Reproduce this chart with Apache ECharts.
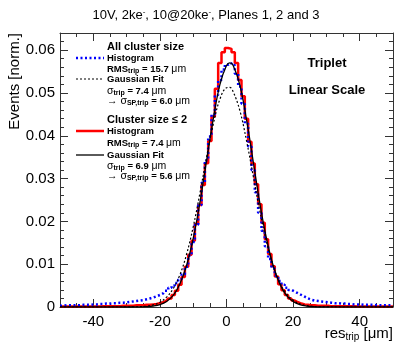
<!DOCTYPE html>
<html><head><meta charset="utf-8">
<script src="https://cdn.jsdelivr.net/npm/echarts@6/dist/echarts.min.js"></script>
<style>html,body{margin:0;padding:0;background:#fff}#c{width:394px;height:346px}</style>
</head><body><div id="c"></div>
<script>
// ---- data ----
const binCenters = [-50,-49,-48,-47,-46,-45,-44,-43,-42,-41,-40,-39,-38,-37,-36,-35,-34,-33,-32,-31,
 -30,-29,-28,-27,-26,-25,-24,-23,-22,-21,-20,-19,-18,-17,-16,-15,-14,-13,-12,-11,
 -10,-9,-8,-7,-6,-5,-4,-3,-2,-1,0,1,2,3,4,5,6,7,8,9,10,
 11,12,13,14,15,16,17,18,19,20,21,22,23,24,25,26,27,28,29,30,
 31,32,33,34,35,36,37,38,39,40,41,42,43,44,45,46,47,48,49,50];
// Cluster size <= 2 histogram (red)
const histCs2 = [0.0001,0.0001,0.0001,0.0001,0.0001,0.0001,0.0001,0.0001,0.0001,0.0001,
 0.0001,0.0001,0.0001,0.0002,0.0002,0.0002,0.0002,0.0002,0.0002,0.0003,
 0.0003,0.0003,0.0003,0.0004,0.0004,0.0004,0.0005,0.0005,0.0006,0.0007,
 0.0009,0.0011,0.0015,0.0020,0.0028,0.0038,0.0052,0.0070,0.0094,0.0122,
 0.0155,0.0194,0.0238,0.0285,0.0336,0.0388,0.0445,0.0510,0.0570,0.0595,
 0.0605,
 0.0603,0.0595,0.0570,0.0530,0.0492,0.0440,0.0386,0.0335,0.0287,0.0240,
 0.0197,0.0158,0.0124,0.0095,0.0071,0.0053,0.0039,0.0028,0.0020,0.0015,
 0.0011,0.0008,0.0006,0.0005,0.0004,0.0004,0.0003,0.0003,0.0003,0.0003,
 0.0002,0.0002,0.0002,0.0002,0.0002,0.0002,0.0002,0.0002,0.0001,0.0001,
 0.0001,0.0001,0.0001,0.0001,0.0001,0.0001,0.0001,0.0001,0.0001,0.0001];
// All cluster sizes histogram (blue dotted)
const histAll = [0.0003,0.0003,0.0004,0.0004,0.0004,0.0004,0.0004,0.0005,0.0005,0.0005,
 0.0006,0.0006,0.0007,0.0007,0.0008,0.0008,0.0009,0.0009,0.0010,0.0010,
 0.0011,0.0012,0.0013,0.0014,0.0015,0.0016,0.0018,0.0020,0.0022,0.0025,
 0.0028,0.0032,0.0038,0.0045,0.0050,0.0056,0.0064,0.0076,0.0094,0.0120,
 0.0152,0.0192,0.0238,0.0290,0.0343,0.0398,0.0450,0.0495,0.0530,0.0555,
 0.0566,
 0.0570,0.0565,0.0545,0.0515,0.0475,0.0428,0.0375,0.0320,0.0268,0.0220,
 0.0178,0.0142,0.0112,0.0090,0.0073,0.0061,0.0052,0.0045,0.0040,0.0036,
 0.0032,0.0028,0.0024,0.0020,0.0017,0.0015,0.0014,0.0013,0.0012,0.0011,
 0.0010,0.0009,0.0009,0.0008,0.0008,0.0007,0.0007,0.0006,0.0006,0.0006,
 0.0005,0.0005,0.0005,0.0005,0.0004,0.0004,0.0004,0.0004,0.0004,0.0004];
// Gaussian fit curves, sampled
const fitX = [-50,-40,-30,-28,-26,-24,-22,-20,-18,-16,-14,-12,-10,-8,-6,-4,-2,0,1,2,4,6,8,10,12,14,16,18,20,22,24,26,28,30,40,50];
const fitAll = [0,0,0.00001,0.00003,0.00009,0.0002,0.0005,0.0011,0.0023,0.0043,0.0075,0.0123,0.0187,0.0265,0.0349,0.0426,0.0485,0.0512,0.0513,0.0503,0.0459,0.0389,0.0307,0.0225,0.0153,0.0097,0.0057,0.0031,0.0016,0.00075,0.00033,0.00014,0.00005,0.00002,0,0];
const fitCs2 = [0,0,0,0.00001,0.00003,0.00008,0.00022,0.00056,0.0013,0.0027,0.0054,0.0097,0.0160,0.0243,0.0341,0.0438,0.0519,0.0564,0.0570,0.0564,0.0519,0.0438,0.0341,0.0243,0.0160,0.0097,0.0054,0.0027,0.0013,0.00056,0.00022,0.00008,0.00003,0.00001,0,0];
const xMajorTicks = [-40,-20,0,20,40];
const titleParts = ['10V, 2ke', '-', ', 10@20ke', '-', ', Planes 1, 2 and 3'];

const FF = '"Liberation Sans", Arial, Helvetica, sans-serif';
const zip = (xs, ys) => xs.map((x, i) => [x, ys[i]]);
const axCol = '#333';

const chart = echarts.init(document.getElementById('c'), null, {renderer: 'canvas'});

const legRich = {
  h: {fontFamily: FF, fontWeight: 'bold', fontSize: 11, lineHeight: 13, fill: '#000'},
  b: {fontFamily: FF, fontWeight: 'bold', fontSize: 9.5, lineHeight: 12, fill: '#000'},
  s: {fontFamily: FF, fontWeight: 'bold', fontSize: 7, lineHeight: 7, verticalAlign: 'bottom', fill: '#000'},
  u: {fontFamily: FF, fontWeight: 'normal', fontSize: 10.5, lineHeight: 12, fill: '#000'}
};
function legText(x, y, text) {
  return {type: 'text', x: x, y: y, silent: true, z: 100,
    style: {text: text, rich: legRich, verticalAlign: 'middle', align: 'left', fontFamily: FF}};
}
function legLine(y, style) {
  return {type: 'line', silent: true, z: 100, shape: {x1: 76, y1: y, x2: 104, y2: y}, style: style};
}

const option = {
  animation: false,
  textStyle: {fontFamily: FF},
  grid: [
    {left: 60, right: 1, top: 33, bottom: 39, containLabel: false},
    {left: 60, right: 1, top: 33, bottom: 39, containLabel: false}
  ],
  xAxis: [
    {type: 'value', gridIndex: 0, position: 'bottom', min: -50, max: 50,
      axisLine: {show: true, onZero: false, lineStyle: {color: axCol, width: 1}},
      axisTick: {show: true, inside: true, length: 8, customValues: xMajorTicks, lineStyle: {color: axCol}},
      axisLabel: {show: true, customValues: xMajorTicks, fontSize: 15, color: '#000', margin: 7, fontFamily: FF},
      splitLine: {show: false}},
    {type: 'value', gridIndex: 0, position: 'top', min: -50, max: 50,
      axisLine: {show: true, onZero: false, lineStyle: {color: axCol, width: 1}},
      axisTick: {show: true, inside: true, length: 8, customValues: xMajorTicks, lineStyle: {color: axCol}},
      axisLabel: {show: false}, splitLine: {show: false}},
    {type: 'value', gridIndex: 1, position: 'bottom', min: -50, max: 50, interval: 5,
      axisLine: {show: false, onZero: false},
      axisTick: {show: true, inside: true, length: 4, lineStyle: {color: axCol}},
      axisLabel: {show: false}, splitLine: {show: false}},
    {type: 'value', gridIndex: 1, position: 'top', min: -50, max: 50, interval: 5,
      axisLine: {show: false, onZero: false},
      axisTick: {show: true, inside: true, length: 4, lineStyle: {color: axCol}},
      axisLabel: {show: false}, splitLine: {show: false}}
  ],
  yAxis: [
    {type: 'value', gridIndex: 0, position: 'left', min: 0, max: 0.064, interval: 0.01,
      axisLine: {show: true, onZero: false, lineStyle: {color: axCol, width: 1}},
      axisTick: {show: true, inside: true, length: 8, lineStyle: {color: axCol}},
      minorTick: {show: true, splitNumber: 5, length: 4, lineStyle: {color: axCol}},
      axisLabel: {show: true, fontSize: 15, color: '#000', margin: 5, showMaxLabel: false, fontFamily: FF},
      splitLine: {show: false}},
    {type: 'value', gridIndex: 0, position: 'right', min: 0, max: 0.064, interval: 0.01,
      axisLine: {show: true, onZero: false, lineStyle: {color: axCol, width: 1}},
      axisTick: {show: true, inside: true, length: 8, lineStyle: {color: axCol}},
      minorTick: {show: true, splitNumber: 5, length: 4, lineStyle: {color: axCol}},
      axisLabel: {show: false}, splitLine: {show: false}},
    {type: 'value', gridIndex: 1, min: 0, max: 0.064, show: false}
  ],
  series: [
    {name: 'Cluster size <= 2 histogram', type: 'line', xAxisIndex: 0, yAxisIndex: 0, step: 'middle',
      data: zip(binCenters, histCs2), symbol: 'none', silent: true, z: 2,
      lineStyle: {color: '#ff0000', width: 2.5}},
    {name: 'All cluster size histogram', type: 'line', xAxisIndex: 0, yAxisIndex: 0, step: 'middle',
      data: zip(binCenters, histAll), symbol: 'none', silent: true, z: 3,
      lineStyle: {color: '#0000ff', width: 2.5, type: [2, 2.5]}},
    {name: 'All cluster size Gaussian fit', type: 'line', xAxisIndex: 0, yAxisIndex: 0, smooth: 0.4,
      data: zip(fitX, fitAll), symbol: 'none', silent: true, z: 4,
      lineStyle: {color: '#000', width: 1.2, type: [2, 2]}},
    {name: 'Cluster size <= 2 Gaussian fit', type: 'line', xAxisIndex: 0, yAxisIndex: 0, smooth: 0.4,
      data: zip(fitX, fitCs2), symbol: 'none', silent: true, z: 5,
      lineStyle: {color: '#000', width: 1.3}}
  ],
  graphic: [
    {type: 'text', x: 206, y: 15, silent: true,
      style: {text: '{m|' + titleParts[0] + '}{p|' + titleParts[1] + '}{m|' + titleParts[2] + '}{p|' + titleParts[3] + '}{m|' + titleParts[4] + '}',
        align: 'center', verticalAlign: 'middle',
        rich: {m: {fontFamily: FF, fontSize: 13, lineHeight: 15, fill: '#000'},
               p: {fontFamily: FF, fontSize: 8, lineHeight: 6, verticalAlign: 'top', fill: '#000'}}}},
    {type: 'text', x: 15, y: 33, rotation: Math.PI / 2, silent: true,
      style: {text: 'Events [norm.]', fontFamily: FF, fontSize: 15, fill: '#000', align: 'right', verticalAlign: 'middle'}},
    {type: 'text', x: 393, y: 334, silent: true,
      style: {text: '{m|res}{s|trip}{m| [μm]}', align: 'right', verticalAlign: 'middle',
        rich: {m: {fontFamily: FF, fontSize: 15, lineHeight: 17, fill: '#000'},
               s: {fontFamily: FF, fontSize: 10, lineHeight: 8, verticalAlign: 'bottom', fill: '#000'}}}},
    {type: 'text', x: 327, y: 63, silent: true,
      style: {text: 'Triplet', fontFamily: FF, fontWeight: 'bold', fontSize: 13, fill: '#000', align: 'center', verticalAlign: 'middle'}},
    {type: 'text', x: 327, y: 90, silent: true,
      style: {text: 'Linear Scale', fontFamily: FF, fontWeight: 'bold', fontSize: 13, fill: '#000', align: 'center', verticalAlign: 'middle'}},
    legText(107, 47, '{h|All cluster size}'),
    legLine(58, {stroke: '#0000ff', lineWidth: 2.5, lineDash: [2, 2.5]}),
    legText(107, 58, '{b|Histogram}'),
    legText(107, 69, '{b|RMS}{s|trip}{b| = 15.7 }{u|μm}'),
    legLine(79, {stroke: '#000', lineWidth: 1.2, lineDash: [2, 2]}),
    legText(107, 79, '{b|Gaussian Fit}'),
    legText(107, 91, '{u|σ}{s|trip}{b| = 7.4 }{u|μm}'),
    legText(107, 101, '{u|→ σ}{s|SP,trip}{b| = 6.0 }{u|μm}'),
    legText(107, 120, '{h|Cluster size ≤ 2}'),
    legLine(131, {stroke: '#ff0000', lineWidth: 2.5}),
    legText(107, 131, '{b|Histogram}'),
    legText(107, 143, '{b|RMS}{s|trip}{b| = 7.4 }{u|μm}'),
    legLine(155, {stroke: '#000', lineWidth: 1.3}),
    legText(107, 155, '{b|Gaussian Fit}'),
    legText(107, 166, '{u|σ}{s|trip}{b| = 6.9 }{u|μm}'),
    legText(107, 176, '{u|→ σ}{s|SP,trip}{b| = 5.6 }{u|μm}')
  ]
};
chart.setOption(option);
</script>
</body></html>
